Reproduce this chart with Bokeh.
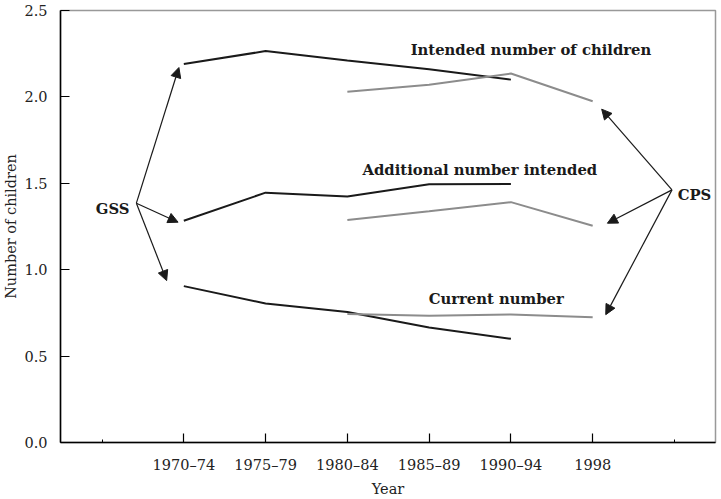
from bokeh.plotting import figure
from bokeh.models import (Range1d, FixedTicker, Arrow, NormalHead, Label)
from bokeh.embed import file_html
from bokeh.resources import INLINE

# ---- data ----
periods = ["1970–74", "1975–79", "1980–84", "1985–89", "1990–94", "1998"]
gss_periods = ["1970–74", "1975–79", "1980–84", "1985–89", "1990–94"]
cps_periods = ["1980–84", "1985–89", "1990–94", "1998"]

gss_intended = [2.19, 2.265, 2.21, 2.16, 2.10]
cps_intended = [2.03, 2.07, 2.135, 1.975]
gss_additional = [1.283, 1.446, 1.423, 1.494, 1.496]
cps_additional = [1.288, 1.338, 1.391, 1.254]
gss_current = [0.905, 0.804, 0.755, 0.665, 0.600]
cps_current = [0.744, 0.733, 0.741, 0.725]

y_ticks = [0.0, 0.5, 1.0, 1.5, 2.0, 2.5]

FONT = "DejaVu Serif"
BLACK = "#1a1a1a"
GRAY = "#8c8c8c"
TXT = "#222222"

def pos(labels):
    return [periods.index(s) + 1 for s in labels]

p = figure(width=718, height=499, output_backend="svg", toolbar_location=None,
           x_range=Range1d(-0.508, 7.502), y_range=Range1d(0, 2.5),
           min_border_left=59, min_border_right=3, min_border_top=10,
           min_border_bottom=56)
p.xgrid.visible = False
p.ygrid.visible = False
p.background_fill_color = "white"
p.border_fill_color = "white"
p.outline_line_color = "#999999"
p.outline_line_width = 1.5

xa = p.xaxis[0]
ya = p.yaxis[0]
xa.ticker = FixedTicker(ticks=list(range(1, len(periods) + 1)),
                        minor_ticks=[0, len(periods) + 1])
xa.major_label_overrides = {i + 1: s for i, s in enumerate(periods)}
xa.major_tick_in = 9
xa.major_tick_out = 0
xa.minor_tick_in = 3
xa.minor_tick_out = 0
xa.major_label_standoff = 14
xa.axis_label = "Year"
xa.axis_label_standoff = 5

ya.ticker = FixedTicker(ticks=y_ticks, minor_ticks=[])
ya.major_label_overrides = {t: f"{t:.1f}" for t in y_ticks}
ya.major_tick_in = 9
ya.major_tick_out = 0
ya.minor_tick_in = 0
ya.minor_tick_out = 0
ya.major_label_standoff = 13
ya.axis_label = "Number of children"
ya.axis_label_standoff = 2

for ax in (xa, ya):
    ax.axis_line_color = "black"
    ax.axis_line_width = 1.5
    ax.major_tick_line_color = "black"
    ax.major_tick_line_width = 1.2
    ax.minor_tick_line_color = "black"
    ax.major_label_text_font = FONT
    ax.major_label_text_font_size = "14.5px"
    ax.major_label_text_color = TXT
    ax.axis_label_text_font = FONT
    ax.axis_label_text_font_size = "14.5px"
    ax.axis_label_text_font_style = "normal"
    ax.axis_label_text_color = TXT

p.line(pos(gss_periods), gss_intended, line_color=BLACK, line_width=2)
p.line(pos(gss_periods), gss_additional, line_color=BLACK, line_width=2)
p.line(pos(gss_periods), gss_current, line_color=BLACK, line_width=2)
p.line(pos(cps_periods), cps_intended, line_color=GRAY, line_width=2)
p.line(pos(cps_periods), cps_additional, line_color=GRAY, line_width=2)
p.line(pos(cps_periods), cps_current, line_color=GRAY, line_width=2)

def arrow(x0, y0, x1, y1):
    p.add_layout(Arrow(end=NormalHead(size=10, fill_color=BLACK, line_color=BLACK,
                                      line_width=1),
                       x_start=x0, y_start=y0, x_end=x1, y_end=y1,
                       line_color=BLACK, line_width=1.2))

gss_origin = (0.42, 1.385)
for tx, ty in [(0.94, 2.17), (0.93, 1.275), (0.79, 0.937)]:
    arrow(gss_origin[0], gss_origin[1], tx, ty)
cps_origin = (6.97, 1.462)
for tx, ty in [(6.11, 1.929), (6.18, 1.269), (6.16, 0.74)]:
    arrow(cps_origin[0], cps_origin[1], tx, ty)

def label(x, y, txt, align="center"):
    p.add_layout(Label(x=x, y=y, text=txt, text_font=FONT, text_font_size="14.8px",
                       text_font_style="bold", text_color=BLACK,
                       text_align=align, text_baseline="middle"))

label(0.335, 1.352, "GSS", "right")
label(7.04, 1.434, "CPS", "left")
label(5.245, 2.275, "Intended number of children")
label(4.62, 1.577, "Additional number intended")
label(4.82, 0.835, "Current number")

open("out.html", "w").write(file_html(p, INLINE))
